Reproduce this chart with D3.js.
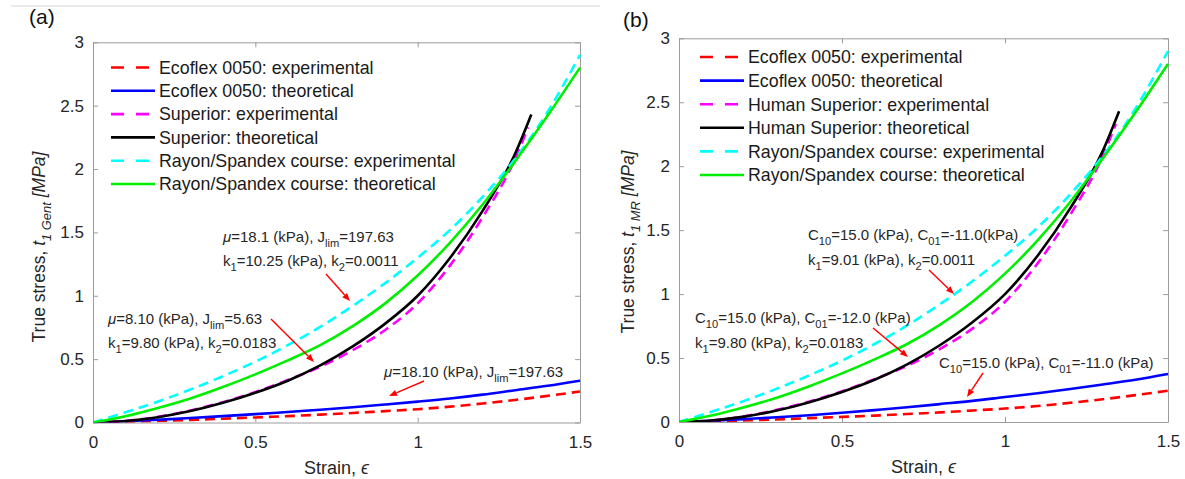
<!DOCTYPE html>
<html>
<head>
<meta charset="utf-8">
<script src="https://cdn.jsdelivr.net/npm/d3@7"></script>
<style>
  body { margin: 0; background: #fff; }
  svg text { font-family: "Liberation Sans", Arial, Helvetica, sans-serif; }
</style>
</head>
<body>
<svg id="fig" width="1185" height="479"></svg>
<script>
// ---- data: true stress (MPa) vs strain ----
const strain = [0, 0.1, 0.2, 0.3, 0.4, 0.5, 0.6, 0.7, 0.8, 0.9, 1.0, 1.1, 1.2, 1.3, 1.4, 1.5];

const ecoflexExp  = [0, 0.005, 0.012, 0.02, 0.03, 0.04, 0.05, 0.062, 0.075, 0.09, 0.105, 0.125, 0.15, 0.178, 0.21, 0.245];
const ecoflexGent = [0, 0.01, 0.022, 0.035, 0.05, 0.066, 0.083, 0.1, 0.12, 0.142, 0.165, 0.19, 0.22, 0.255, 0.29, 0.33];
const ecoflexMR   = [0, 0.01, 0.023, 0.037, 0.053, 0.072, 0.093, 0.115, 0.14, 0.165, 0.195, 0.225, 0.258, 0.293, 0.33, 0.375];

const superiorStrain    = [0, 0.1, 0.2, 0.3, 0.4, 0.5, 0.6, 0.7, 0.8, 0.9, 1.0, 1.1, 1.2, 1.3, 1.35];
const superiorExpStrain = [0, 0.1, 0.2, 0.3, 0.4, 0.5, 0.6, 0.7, 0.8, 0.9, 1.0, 1.1, 1.2, 1.3, 1.34];
const superiorExp  = [0, 0.012, 0.045, 0.095, 0.16, 0.24, 0.335, 0.44, 0.57, 0.73, 0.94, 1.24, 1.62, 2.08, 2.33];
const superiorGent = [0, 0.012, 0.042, 0.09, 0.155, 0.235, 0.33, 0.45, 0.6, 0.78, 1.0, 1.3, 1.67, 2.12, 2.43];
const superiorMR   = [0, 0.012, 0.042, 0.09, 0.155, 0.235, 0.33, 0.45, 0.6, 0.78, 1.0, 1.3, 1.67, 2.12, 2.43];

const rayonExp  = [0, 0.08, 0.165, 0.26, 0.365, 0.48, 0.61, 0.755, 0.92, 1.1, 1.3, 1.52, 1.78, 2.08, 2.45, 2.9];
const rayonGent = [0, 0.05, 0.115, 0.19, 0.28, 0.38, 0.49, 0.61, 0.76, 0.94, 1.16, 1.42, 1.72, 2.06, 2.42, 2.8];
const rayonMR   = [0, 0.05, 0.115, 0.19, 0.28, 0.38, 0.49, 0.61, 0.76, 0.94, 1.16, 1.42, 1.72, 2.06, 2.42, 2.8];

const xTicks = [0, 0.5, 1, 1.5];
const yTicks = [0, 0.5, 1, 1.5, 2, 2.5, 3];

const legendGent = ["Ecoflex 0050: experimental", "Ecoflex 0050: theoretical",
  "Superior: experimental", "Superior: theoretical",
  "Rayon/Spandex course: experimental", "Rayon/Spandex course: theoretical"];
const legendMR = ["Ecoflex 0050: experimental", "Ecoflex 0050: theoretical",
  "Human Superior: experimental", "Human Superior: theoretical",
  "Rayon/Spandex course: experimental", "Rayon/Spandex course: theoretical"];

// ---- styling ----
const colors = { red: "#ff0000", blue: "#0000ff", magenta: "#ff00ff", black: "#000000", cyan: "#00ffff", green: "#00ee00" };
const FONT_DARK = "#262626";
const AXIS_GRAY = "#9c9c9c";
const NOTE_SIZE = 15;

const svg = d3.select("#fig");

// thin separator line at the very top
svg.append("line").attr("x1", 11).attr("x2", 600).attr("y1", 6).attr("y2", 6)
  .attr("stroke", "#d6d6d6").attr("stroke-width", 1);

// writes a list of text segments (italic / subscript) into a text element
function rich(textSel, segs, size) {
  let shift = 0;
  segs.forEach(s => {
    const target = s.sub ? size * 0.32 : 0;
    const ts = textSel.append("tspan").text(s.t);
    if (target !== shift) ts.attr("dy", target - shift);
    shift = target;
    if (s.sub) ts.attr("font-size", size * 0.74);
    if (s.it) ts.style("font-style", "italic");
  });
}

function drawPanel(p) {
  const x = d3.scaleLinear().domain([0, 1.5]).range([p.left, p.right]);
  const y = d3.scaleLinear().domain([0, 3]).range([p.bottom, p.top]);
  const g = svg.append("g");

  // axes box with inward ticks on all four sides
  const tk = 5;
  const axB = g.append("g").attr("transform", `translate(0,${p.bottom})`)
    .call(d3.axisBottom(x).tickValues(xTicks).tickSizeInner(-tk).tickSizeOuter(0).tickPadding(9).tickFormat(d3.format("")));
  const axT = g.append("g").attr("transform", `translate(0,${p.top})`)
    .call(d3.axisTop(x).tickValues(xTicks).tickSizeInner(-tk).tickSizeOuter(0).tickFormat(""));
  const axL = g.append("g").attr("transform", `translate(${p.left},0)`)
    .call(d3.axisLeft(y).tickValues(yTicks).tickSizeInner(-tk).tickSizeOuter(0).tickPadding(9).tickFormat(d3.format("")));
  const axR = g.append("g").attr("transform", `translate(${p.right},0)`)
    .call(d3.axisRight(y).tickValues(yTicks).tickSizeInner(-tk).tickSizeOuter(0).tickFormat(""));
  [axB, axT, axL, axR].forEach(a => {
    a.select(".domain").attr("stroke", AXIS_GRAY).attr("stroke-width", 1);
    a.selectAll(".tick line").attr("stroke", AXIS_GRAY);
    a.selectAll(".tick text").attr("fill", FONT_DARK).attr("font-size", 17)
      .attr("font-family", "Liberation Sans, Arial, sans-serif");
  });
  axB.selectAll(".tick text").attr("dy", "0.95em");

  // curves
  const clip = "clip-" + p.id;
  g.append("clipPath").attr("id", clip).append("rect")
    .attr("x", p.left).attr("y", p.top - 2).attr("width", p.right - p.left + 2).attr("height", p.bottom - p.top + 2);
  const line = d3.line().curve(d3.curveMonotoneX).x(d => x(d[0])).y(d => y(d[1]));
  const curves = g.append("g").attr("clip-path", `url(#${clip})`);
  p.series.forEach(s => {
    curves.append("path")
      .attr("d", line(d3.zip(s.xs, s.ys)))
      .attr("fill", "none").attr("stroke", s.color).attr("stroke-width", 2.6)
      .attr("stroke-dasharray", s.dash ? "10,6" : null);
  });

  // legend
  const lg = g.append("g");
  p.series.forEach((s, i) => {
    const ly = p.legY + i * p.legStep;
    lg.append("line").attr("x1", p.legX).attr("x2", p.legX + 44).attr("y1", ly).attr("y2", ly)
      .attr("stroke", s.color).attr("stroke-width", 2.6)
      .attr("stroke-dasharray", s.dash ? "13,12" : null);
    lg.append("text").attr("x", p.legX + 48).attr("y", ly + 6.3)
      .attr("font-size", 17.8).attr("fill", "#1a1a1a").text(p.legend[i]);
  });

  // annotations with red pointer arrows
  p.notes.forEach(n => {
    n.lines.forEach(l => {
      const t = g.append("text").attr("x", l.x).attr("y", l.y + 5)
        .attr("font-size", NOTE_SIZE).attr("fill", FONT_DARK);
      rich(t, l.segs, NOTE_SIZE);
    });
    const [x1, y1, x2, y2] = n.arrow;
    const ang = Math.atan2(y2 - y1, x2 - x1), hl = 8, hw = 3.2;
    const bx = x2 - hl * Math.cos(ang), by = y2 - hl * Math.sin(ang);
    g.append("line").attr("x1", x1).attr("y1", y1).attr("x2", bx).attr("y2", by)
      .attr("stroke", "#ff0000").attr("stroke-width", 1.4);
    g.append("path")
      .attr("d", `M${x2},${y2}L${bx + hw * Math.sin(ang)},${by - hw * Math.cos(ang)}L${bx - hw * Math.sin(ang)},${by + hw * Math.cos(ang)}Z`)
      .attr("fill", "#ff0000");
  });

  // axis titles
  const xl = g.append("text").attr("x", (p.left + p.right) / 2).attr("y", p.bottom + 51)
    .attr("text-anchor", "middle").attr("font-size", 18).attr("fill", FONT_DARK);
  rich(xl, [{ t: "Strain, " }, { t: "\u03f5", it: true }], 18);

  const yl = g.append("text").attr("transform", `translate(${p.ylabX},${p.ylabY}) rotate(-90)`)
    .attr("text-anchor", "middle").attr("font-size", 17.5).attr("fill", FONT_DARK);
  rich(yl, [{ t: "True stress,  " }, { t: "t", it: true }, { t: "1 " + p.model, it: true, sub: true },
    { t: " [MPa]", it: true }], 17.5);

  // panel tag
  g.append("text").attr("x", p.tagX).attr("y", p.tagY).attr("font-size", 21).attr("fill", "#111").text(p.tag);
}

const seriesFor = (ecoTheo, supTheo, rayTheo) => [
  { xs: strain, ys: ecoflexExp, color: colors.red, dash: true },
  { xs: strain, ys: ecoTheo, color: colors.blue, dash: false },
  { xs: superiorExpStrain, ys: superiorExp, color: colors.magenta, dash: true },
  { xs: superiorStrain, ys: supTheo, color: colors.black, dash: false },
  { xs: strain, ys: rayonExp, color: colors.cyan, dash: true },
  { xs: strain, ys: rayTheo, color: colors.green, dash: false }
];

drawPanel({
  id: "a", tag: "(a)", tagX: 29, tagY: 24, model: "Gent",
  left: 93, right: 580, top: 42.3, bottom: 422.5,
  ylabX: 45, ylabY: 247,
  legX: 111, legY: 67.5, legStep: 23.3, legend: legendGent,
  series: seriesFor(ecoflexGent, superiorGent, rayonGent),
  notes: [
    { lines: [
        { x: 223, y: 237, segs: [{ t: "\u03bc", it: true }, { t: "=18.1 (kPa), J" }, { t: "lim", sub: true }, { t: "=197.63" }] },
        { x: 223, y: 261, segs: [{ t: "k" }, { t: "1", sub: true }, { t: "=10.25 (kPa), k" }, { t: "2", sub: true }, { t: "=0.0011" }] }],
      arrow: [326, 274, 350, 301] },
    { lines: [
        { x: 108, y: 319, segs: [{ t: "\u03bc", it: true }, { t: "=8.10 (kPa), J" }, { t: "lim", sub: true }, { t: "=5.63" }] },
        { x: 108, y: 343, segs: [{ t: "k" }, { t: "1", sub: true }, { t: "=9.80 (kPa), k" }, { t: "2", sub: true }, { t: "=0.0183" }] }],
      arrow: [271, 319, 314, 362] },
    { lines: [
        { x: 384, y: 372, segs: [{ t: "\u03bc", it: true }, { t: "=18.10 (kPa), J" }, { t: "lim", sub: true }, { t: "=197.63" }] }],
      arrow: [424, 381, 389, 396] }
  ]
});

drawPanel({
  id: "b", tag: "(b)", tagX: 623, tagY: 27, model: "MR",
  left: 679, right: 1168, top: 38.3, bottom: 422,
  ylabX: 634, ylabY: 242,
  legX: 700, legY: 57, legStep: 23.6, legend: legendMR,
  series: seriesFor(ecoflexMR, superiorMR, rayonMR),
  notes: [
    { lines: [
        { x: 808, y: 235, segs: [{ t: "C" }, { t: "10", sub: true }, { t: "=15.0 (kPa), C" }, { t: "01", sub: true }, { t: "=-11.0(kPa)" }] },
        { x: 808, y: 260, segs: [{ t: "k" }, { t: "1", sub: true }, { t: "=9.01 (kPa), k" }, { t: "2", sub: true }, { t: "=0.0011" }] }],
      arrow: [929, 270, 954, 294] },
    { lines: [
        { x: 695, y: 318, segs: [{ t: "C" }, { t: "10", sub: true }, { t: "=15.0 (kPa), C" }, { t: "01", sub: true }, { t: "=-12.0 (kPa)" }] },
        { x: 695, y: 343, segs: [{ t: "k" }, { t: "1", sub: true }, { t: "=9.80 (kPa), k" }, { t: "2", sub: true }, { t: "=0.0183" }] }],
      arrow: [873, 328, 908, 357] },
    { lines: [
        { x: 939, y: 363, segs: [{ t: "C" }, { t: "10", sub: true }, { t: "=15.0 (kPa), C" }, { t: "01", sub: true }, { t: "=-11.0 (kPa)" }] }],
      arrow: [983, 373, 967, 397] }
  ]
});
</script>
</body>
</html>
